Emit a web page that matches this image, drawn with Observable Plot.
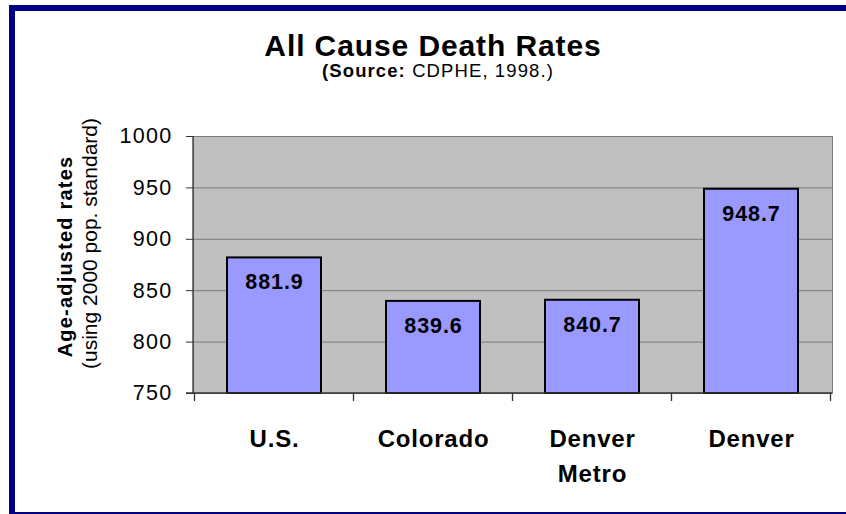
<!DOCTYPE html>
<html>
<head>
<meta charset="utf-8">
<script src="https://cdn.jsdelivr.net/npm/d3@7"></script>
<script src="https://cdn.jsdelivr.net/npm/@observablehq/plot@0.6"></script>
<style>
  html, body { margin: 0; padding: 0; background: #fff; overflow: hidden; }
  #wrap { position: relative; width: 846px; height: 514px; overflow: hidden; background: #fff; font-family: "Liberation Sans", Arial, sans-serif; }
  #wrap > svg { position: absolute; left: 0; top: 0; }
  #frame { position: absolute; left: 9px; top: 5px; width: 900px; height: 501px;
           border-top: 6px solid #000080; border-left: 6px solid #000080; border-bottom: 2px solid #000080; pointer-events: none; }
  #overlay { position: absolute; left: 0; top: 0; pointer-events: none; }
  g[aria-label="y-axis tick label"] text { letter-spacing: 1.3px; }
  g[aria-label="x-axis tick label"] text { letter-spacing: 0.8px; font-weight: bold; }
  g.vals text { letter-spacing: 0.9px; font-weight: bold; }
</style>
</head>
<body>
<div id="wrap"></div>
<script>
// ---- data ----
const categories = ["U.S.", "Colorado", "Denver Metro", "Denver"];
const categoryLabels = ["U.S.", "Colorado", "Denver\nMetro", "Denver"];
const values = [881.9, 839.6, 840.7, 948.7];
const yTicks = [750, 800, 850, 900, 950, 1000];
const yDomain = [750, 1000];
const titleText = "All Cause Death Rates";
const subtitleBold = "(Source:";
const subtitleRest = " CDPHE, 1998.)";
const yTitleBold = "Age-adjusted rates";
const yTitleRegular = "(using 2000 pop. standard)";

const data = categories.map((c, i) => ({name: c, value: values[i]}));
const labelOf = new Map(categories.map((c, i) => [c, categoryLabels[i]]));
const FONT = '"Liberation Sans", Arial, sans-serif';

// custom mark: axis lines + category boundary ticks
function axisLines(index, scales, vals, dims) {
  const {x, y} = scales;
  const {width, marginLeft, marginRight} = dims;
  const yb = y(yDomain[0]), yt = y(yDomain[1]);
  const g = d3.create("svg:g").attr("stroke", "#333").attr("stroke-width", 1.3);
  g.append("line").attr("x1", marginLeft - 7).attr("x2", width - marginRight).attr("y1", yb).attr("y2", yb);
  g.append("line").attr("x1", marginLeft).attr("x2", marginLeft).attr("y1", yt).attr("y2", yb);
  const bw = typeof x.bandwidth === "function" ? x.bandwidth() : x.bandwidth;
  const step = typeof x.step === "function" ? x.step() : bw / (1 - 0.41);
  const gap = (step - bw) / 2;
  const bounds = categories.map(c => x(c) - gap);
  bounds.push(x(categories[categories.length - 1]) + bw + gap);
  for (const bx of bounds) {
    g.append("line").attr("x1", bx).attr("x2", bx).attr("y1", yb).attr("y2", yb + 8);
  }
  return g.node();
}

const chart = Plot.plot({
  width: 846,
  height: 514,
  marginLeft: 193,
  marginRight: 14,
  marginTop: 136,
  marginBottom: 121,
  style: {fontFamily: FONT, background: "transparent", color: "#000", overflow: "visible"},
  x: {domain: categories, paddingInner: 0.41, paddingOuter: 0.205, label: null},
  y: {domain: yDomain, label: null},
  marks: [
    Plot.frame({fill: "#c0c0c0", stroke: "#808080"}),
    Plot.ruleY(yTicks, {stroke: "#7a7a7a", strokeWidth: 1}),
    Plot.barY(data, {x: "name", y1: () => yDomain[0], y2: "value", fill: "#9999ff", stroke: "#000", strokeWidth: 2}),
    Plot.text(data, {x: "name", y: "value", text: d => d.value.toFixed(1), dy: 24.5, fontSize: 21.5, fontWeight: "bold", fill: "#000", className: "vals"}),
    Plot.axisY({ticks: yTicks, tickSize: 7, tickPadding: 14, fontSize: 21.5, stroke: "#333", label: null, tickFormat: d => String(d)}),
    Plot.axisX({tickSize: 0, tickPadding: 29, fontSize: 24, fontWeight: "bold", lineHeight: 1.46, label: null, tickFormat: d => labelOf.get(d)}),
    axisLines
  ]
});

const wrap = document.getElementById("wrap");
wrap.appendChild(chart);

// overlay texts (title, subtitle, y-axis title)
const ov = d3.select(wrap).append("svg").attr("id", "overlay").attr("width", 846).attr("height", 514)
  .style("font-family", FONT);
ov.append("text").attr("x", 433).attr("y", 55.5).attr("text-anchor", "middle")
  .attr("font-size", 30).attr("font-weight", "bold").attr("letter-spacing", 0.9).text(titleText);
const st = ov.append("text").attr("x", 438).attr("y", 77).attr("text-anchor", "middle")
  .attr("font-size", 18.5).attr("letter-spacing", 1.1);
st.append("tspan").attr("font-weight", "bold").text(subtitleBold);
st.append("tspan").text(subtitleRest);
ov.append("text").attr("transform", "translate(71.5,256.5) rotate(-90)").attr("text-anchor", "middle")
  .attr("font-size", 20).attr("font-weight", "bold").attr("letter-spacing", 1.2).text(yTitleBold);
ov.append("text").attr("transform", "translate(97,243.5) rotate(-90)").attr("text-anchor", "middle")
  .attr("font-size", 21).text(yTitleRegular);

d3.select(wrap).append("div").attr("id", "frame");
</script>
</body>
</html>
